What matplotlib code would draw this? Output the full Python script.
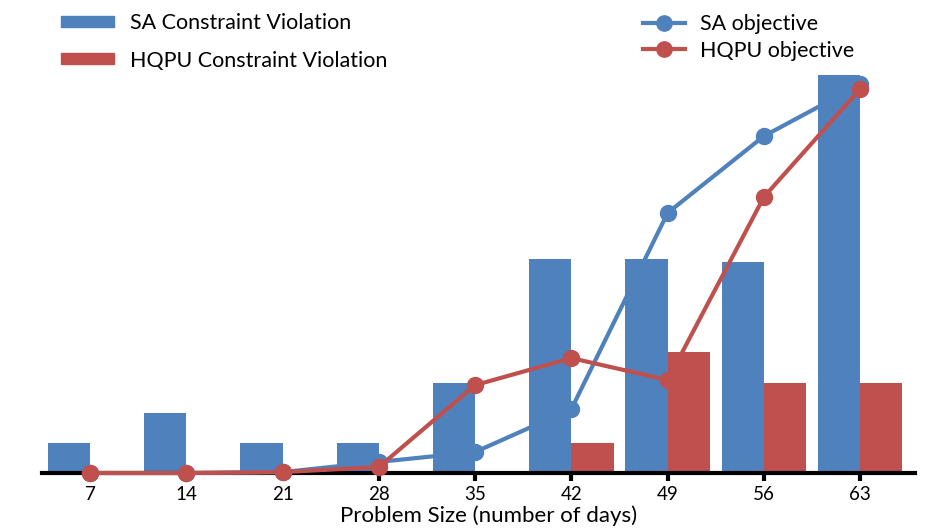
import matplotlib
matplotlib.use("Agg")
import matplotlib.pyplot as plt
import numpy as np
from matplotlib.patches import Patch
from matplotlib.lines import Line2D

days = [7, 14, 21, 28, 35, 42, 49, 56, 63]
sa_violation = [1.0, 2.0, 1.0, 1.0, 3.0, 7.15, 7.15, 7.05, 13.25]
hqpu_violation = [0.0, 0.0, 0.0, 0.0, 0.0, 1.0, 4.05, 3.0, 3.0]
sa_objective = [0.0, 0.0, 0.03, 0.37, 0.7, 2.13, 8.67, 11.23, 12.95]
hqpu_objective = [0.0, 0.0, 0.03, 0.2, 2.93, 3.83, 3.1, 9.2, 12.8]

BLUE = "#4F81BD"
RED = "#C0504D"
FONT = "Lato"

W, H = 947, 529
fig = plt.figure(figsize=(W / 100, H / 100), dpi=100)
left, right, base, top = 42, 915, 473, 20
ax = fig.add_axes([left / W, 1 - base / H, (right - left) / W, (base - top) / H])
unit = 30.0
ymax = (base - top) / unit

x = np.arange(len(days))
bw = 0.44
ax.bar(x - bw / 2, sa_violation, width=bw, color=BLUE, zorder=2)
ax.bar(x + bw / 2, hqpu_violation, width=bw, color=RED, zorder=2)
ax.set_ylim(0, ymax)
ax.set_xlim(-0.5, 8.57)

ax2 = ax.twinx()
ax2.set_ylim(0, ymax)
ax2.plot(x, sa_objective, color=BLUE, lw=3, marker="o", ms=11.5, zorder=3, clip_on=False)
ax2.plot(x, hqpu_objective, color=RED, lw=3, marker="o", ms=11.5, zorder=4, clip_on=False)

for a in (ax, ax2):
    for s in ("top", "right", "left"):
        a.spines[s].set_visible(False)
    a.set_yticks([])
ax2.spines["bottom"].set_visible(False)
ax.spines["bottom"].set_linewidth(3)
ax.spines["bottom"].set_zorder(5)
ax.set_xticks(x)
ax.set_xticklabels([str(d) for d in days], fontsize=13.5, family=FONT)
ax.tick_params(axis="x", direction="out", length=6, width=3, pad=3)
ax.set_xlabel("Problem Size (number of days)", fontsize=16, family=FONT, va="center")
ax.xaxis.set_label_coords((489 - left) / (right - left), -(516 - base) / (base - top))

bar_handles = [Patch(color=BLUE, label="SA Constraint Violation"),
               Patch(color=RED, label="HQPU Constraint Violation")]
leg1 = fig.legend(handles=bar_handles, loc="upper left", bbox_to_anchor=(42 / W, 1 + 6 / H),
                  frameon=False, prop={"family": FONT, "size": 15.5},
                  handlelength=2.45, handleheight=0.4, handletextpad=0.75, labelspacing=0.8)
line_handles = [Line2D([0], [0], color=BLUE, lw=3, marker="o", ms=11, label="SA objective"),
                Line2D([0], [0], color=RED, lw=3, marker="o", ms=11, label="HQPU objective")]
leg2 = fig.legend(handles=line_handles, loc="upper left", bbox_to_anchor=(624 / W, 1 + 5 / H),
                  frameon=False, prop={"family": FONT, "size": 15.5},
                  handlelength=1.95, handletextpad=0.7, labelspacing=0.3)

fig.savefig("out.png", dpi=100)
